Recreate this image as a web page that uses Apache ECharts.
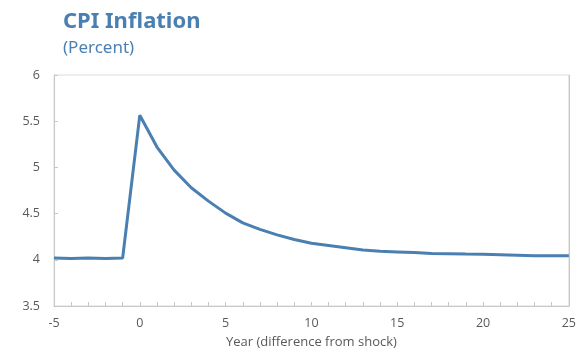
<!DOCTYPE html>
<html><head><meta charset="utf-8">
<script src="https://cdn.jsdelivr.net/npm/echarts@6/dist/echarts.min.js"></script>
<style>html,body{margin:0;padding:0;background:#fff}#c{width:579px;height:354px}</style>
</head><body><div id="c"></div>
<script>
const years = [-5,-4,-3,-2,-1,0,1,2,3,4,5,6,7,8,9,10,11,12,13,14,15,16,17,18,19,20,21,22,23,24,25];
const cpi = [4.02,4.015,4.02,4.015,4.02,5.565,5.22,4.97,4.78,4.635,4.505,4.40,4.33,4.27,4.22,4.18,4.155,4.13,4.105,4.092,4.085,4.078,4.067,4.065,4.062,4.06,4.055,4.05,4.043,4.043,4.043];
const xTicks = {min:-5, max:25, interval:5};
const yTicks = {min:3.5, max:6, interval:0.5};
const chart = echarts.init(document.getElementById('c'));
const axisCol = '#c8c8c8';
const lblCol = '#595959';
chart.setOption({
  animation:false,
  title:{text:'CPI Inflation', subtext:'(Percent)', left:58, top:6,
    textStyle:{fontFamily:'Noto Sans', fontWeight:'bold', fontSize:22, color:'#4a7fb1'},
    subtextStyle:{fontFamily:'Noto Sans', fontSize:17, color:'#4a7fb1'}, itemGap:7},
  grid:{left:54, right:8, top:75, bottom:45, show:true, borderColor:'#dcdcdc', borderWidth:1},
  xAxis:{type:'value', min:xTicks.min, max:xTicks.max, interval:xTicks.interval,
    name:'Year (difference from shock)', nameLocation:'middle', nameGap:30,
    nameTextStyle:{color:lblCol, fontSize:13, fontFamily:'Open Sans'},
    axisLine:{onZero:false, lineStyle:{color:axisCol}},
    axisTick:{inside:true, length:4, lineStyle:{color:axisCol}},
    minorTick:{show:true, splitNumber:5, length:4, lineStyle:{color:axisCol}},
    splitLine:{show:false},
    axisLabel:{color:lblCol, fontSize:12.5, fontFamily:'Open Sans', margin:11}},
  yAxis:[{type:'value', min:yTicks.min, max:yTicks.max, interval:yTicks.interval,
    axisLine:{show:true, onZero:false, lineStyle:{color:axisCol}},
    axisTick:{show:true, inside:true, length:4, lineStyle:{color:axisCol}},
    splitLine:{show:false},
    axisLabel:{color:lblCol, fontSize:12.5, fontFamily:'Open Sans', margin:14}},
   {type:'value', position:'right', min:yTicks.min, max:yTicks.max, interval:yTicks.interval,
    axisLine:{show:true, onZero:false, lineStyle:{color:axisCol}}, axisTick:{show:false},
    axisLabel:{show:false}, splitLine:{show:false}}],
  series:[{type:'line', data:years.map((y,i)=>[y,cpi[i]]), showSymbol:false, symbol:'none',
    lineStyle:{color:'#4a7fb1', width:3}}]
});
</script></body></html>
